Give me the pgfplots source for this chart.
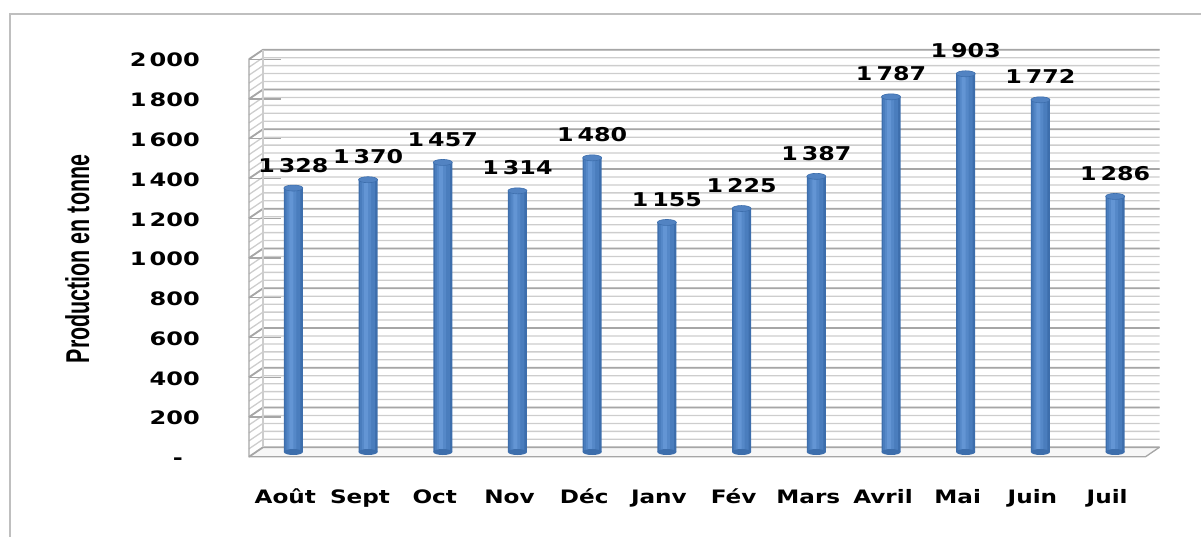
\documentclass[border=0pt]{standalone}
\usepackage{pgfplots}
\pgfplotsset{compat=1.18}
\usepackage{fontspec}
\setmainfont{DejaVu Sans}
\newfontfamily\lblfont{DejaVu Sans}[FakeStretch=1.25]
\newfontfamily\ytfont{DejaVu Sans}[FakeStretch=1.3]
\newfontfamily\titlefont{Liberation Sans}[FakeStretch=0.65]
\definecolor{bar1}{HTML}{3D6EAC}
\definecolor{bar2}{HTML}{4A7DBD}
\definecolor{bar3}{HTML}{5588C8}
\definecolor{bar4}{HTML}{6395D4}
\definecolor{capfill}{HTML}{5283C2}
\definecolor{gridminor}{HTML}{CDCDCD}
\definecolor{gridmajor}{HTML}{A6A6A6}
\definecolor{framec}{HTML}{BFBFBF}
\pgfdeclareplotmark{captop}{\pgfpathellipse{\pgfpointorigin}{\pgfqpoint{9.5pt}{0pt}}{\pgfqpoint{0pt}{3pt}}\pgfusepathqfillstroke}
\pgfdeclareplotmark{capbot}{\pgfpathellipse{\pgfpointorigin}{\pgfqpoint{9.5pt}{0pt}}{\pgfqpoint{0pt}{3pt}}\pgfusepathqfill}
\begin{document}
\begin{tikzpicture}[x=1pt,y=1pt]
\draw[framec, line width=1.2pt] (10,-10) -- (10,522) -- (1215,522);
\node[rotate=90, anchor=base, inner sep=0pt] at (89,277) {\titlefont\bfseries\fontsize{33}{33}\selectfont Production en tonne};
\begin{axis}[set layers, at={(256pt,84pt)}, anchor=south west, scale only axis,
  width=896.5pt, height=397.5pt, xmin=-0.5, xmax=11.5, ymin=0, ymax=2000,
  axis line style={draw=none}, major tick length=0pt, clip=false,
  xtick={0,1,2,3,4,5,6,7,8,9,10,11},
  xticklabels={Août,Sept,Oct,Nov,Déc,Janv,Fév,Mars,Avril,Mai,Juin,Juil},
  ytick={0,200,400,600,800,1000,1200,1400,1600,1800,2000},
  yticklabels={-\hspace*{17pt},200,400,600,800,1\hspace*{3pt}000,1\hspace*{3pt}200,1\hspace*{3pt}400,1\hspace*{3pt}600,1\hspace*{3pt}800,2\hspace*{3pt}000},
  xticklabel style={anchor=base, inner sep=0pt, xshift=-8pt, yshift=-51.5pt, font=\lblfont\bfseries\fontsize{18.5}{18.5}\selectfont},
  yticklabel style={anchor=base east, inner sep=0pt, xshift=-56pt, yshift=-12.5pt, font=\ytfont\bfseries\fontsize{18.5}{18.5}\selectfont},
]
\begin{pgfonlayer}{axis background}
\fill[gray!6] ([shift={(-7pt,-4.75pt)}]axis cs:-0.5,0) -- ([shift={(-7pt,-4.75pt)}]axis cs:11.5,0) -- ([shift={(7pt,4.75pt)}]axis cs:11.5,0) -- ([shift={(7pt,4.75pt)}]axis cs:-0.5,0) -- cycle;
\pgfplotsinvokeforeach{40,80,...,2000}{
  \draw[gridminor, line width=1.3pt] ([shift={(-7pt,-4.75pt)}]axis cs:-0.5,#1) -- ([shift={(7pt,4.75pt)}]axis cs:-0.5,#1) -- ([shift={(7pt,4.75pt)}]axis cs:11.5,#1);
}
\pgfplotsinvokeforeach{0,200,...,2000}{
  \draw[gridmajor, line width=1.8pt] ([shift={(-7pt,-4.75pt)}]axis cs:-0.5,#1) -- ([shift={(7pt,4.75pt)}]axis cs:-0.5,#1) -- ([shift={(7pt,4.75pt)}]axis cs:11.5,#1);
  \draw[gridmajor, line width=1.2pt] ([shift={(-7pt,-4.75pt)}]axis cs:-0.5,#1) -- ++(-5pt,0);
}
\draw[gridmajor, line width=1.3pt] ([shift={(-7pt,-4.75pt)}]axis cs:-0.5,2000) -- ([shift={(-7pt,-4.75pt)}]axis cs:-0.5,0) -- ([shift={(-7pt,-4.75pt)}]axis cs:11.5,0) -- ([shift={(7pt,4.75pt)}]axis cs:11.5,0);
\draw[gridminor, line width=1.3pt] ([shift={(7pt,4.75pt)}]axis cs:-0.5,0) -- ([shift={(7pt,4.75pt)}]axis cs:-0.5,2000);
\end{pgfonlayer}
\addplot[only marks, mark=capbot, mark options={fill=bar1}] coordinates {
(0,0) (1,0) (2,0) (3,0) (4,0) (5,0) (6,0) (7,0) (8,0) (9,0) (10,0) (11,0)};
\addplot[ybar, bar width=19pt, bar shift=0pt, draw=none, fill=bar1] coordinates {
(0,1328) (1,1370) (2,1457) (3,1314) (4,1480) (5,1155) (6,1225) (7,1387) (8,1787) (9,1903) (10,1772) (11,1286)};
\addplot[ybar, bar width=15pt, bar shift=-0.5pt, draw=none, fill=bar2] coordinates {
(0,1328) (1,1370) (2,1457) (3,1314) (4,1480) (5,1155) (6,1225) (7,1387) (8,1787) (9,1903) (10,1772) (11,1286)};
\addplot[ybar, bar width=9pt, bar shift=-1.5pt, draw=none, fill=bar3] coordinates {
(0,1328) (1,1370) (2,1457) (3,1314) (4,1480) (5,1155) (6,1225) (7,1387) (8,1787) (9,1903) (10,1772) (11,1286)};
\addplot[ybar, bar width=4pt, bar shift=-2pt, draw=none, fill=bar4] coordinates {
(0,1328) (1,1370) (2,1457) (3,1314) (4,1480) (5,1155) (6,1225) (7,1387) (8,1787) (9,1903) (10,1772) (11,1286)};
\addplot[only marks, mark=captop, mark options={fill=capfill, draw=bar1, line width=0.6pt},
  point meta=explicit symbolic, nodes near coords,
  every node near coord/.append style={anchor=base, inner sep=0pt, yshift=16pt, text=black, font=\lblfont\bfseries\fontsize{19}{19}\selectfont}] coordinates {
(0,1328) [1\hspace*{4pt}328] (1,1370) [1\hspace*{4pt}370] (2,1457) [1\hspace*{4pt}457] (3,1314) [1\hspace*{4pt}314]
(4,1480) [1\hspace*{4pt}480] (5,1155) [1\hspace*{4pt}155] (6,1225) [1\hspace*{4pt}225] (7,1387) [1\hspace*{4pt}387]
(8,1787) [1\hspace*{4pt}787] (9,1903) [1\hspace*{4pt}903] (10,1772) [1\hspace*{4pt}772] (11,1286) [1\hspace*{4pt}286]};
\end{axis}
\pgfresetboundingbox
\useasboundingbox (0,0) rectangle (1201,536);
\end{tikzpicture}
\end{document}
